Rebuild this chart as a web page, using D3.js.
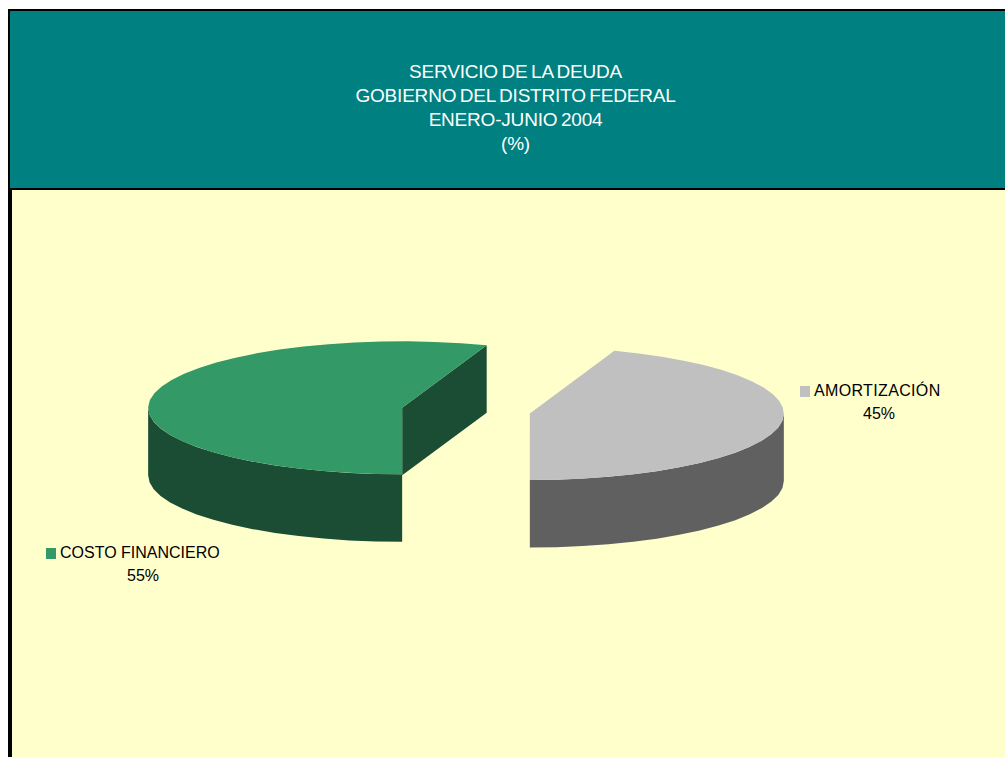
<!DOCTYPE html>
<html>
<head>
<meta charset="utf-8">
<script src="https://cdn.jsdelivr.net/npm/d3@7/dist/d3.min.js"></script>
<style>
html,body{margin:0;padding:0;background:#fff;overflow:hidden}
svg{display:block}
text{font-family:"Liberation Sans",Arial,sans-serif}
</style>
</head>
<body>
<div id="chart"></div>
<script>
var titleLines=["SERVICIO DE LA DEUDA","GOBIERNO DEL DISTRITO FEDERAL","ENERO-JUNIO 2004","(%)"];
var categories=["AMORTIZACIÓN","COSTO FINANCIERO"];
var values=[44.6,55.4];
var topColors=["#c0c0c0","#339966"];
var sideColors=["#606060","#1a4d33"];

var width=1005,height=757;
var rx=254,ry=66.5,depth=67.5;   // elipse de la tapa y grosor
var cx=466,cy=410.7;             // centro del pastel
var explode=0.255;               // separacion de las rebanadas
var firstAngle=Math.PI*(1-2*values[0]/d3.sum(values));  // el corte queda vertical abajo

var svg=d3.select("#chart").append("svg").attr("width",width).attr("height",height);

// marco y encabezado
svg.append("rect").attr("x",8).attr("y",9).attr("width",width-8).attr("height",height-9).attr("fill","#000");
svg.append("rect").attr("x",10).attr("y",11).attr("width",width-10).attr("height",177).attr("fill","#008080");
svg.append("rect").attr("x",12).attr("y",190).attr("width",width-12).attr("height",height-190).attr("fill","#ffffcc");

svg.selectAll("text.title").data(titleLines).enter().append("text")
	.attr("class","title")
	.attr("x",515.5)
	.attr("y",function(d,i){return 78+i*24;})
	.attr("text-anchor","middle")
	.attr("fill","#fff")
	.attr("font-size",19)
	.attr("letter-spacing",-0.2)
	.attr("word-spacing",-1.5)
	.text(function(d){return d;});

// la escala va de -1..1 del circulo unitario a pixeles
var xs=d3.scaleLinear().domain([-1,1]).range([-rx,rx]);
var ys=d3.scaleLinear().domain([-1,1]).range([-ry,ry]);
var pie=d3.pie().sort(null).startAngle(firstAngle).endAngle(firstAngle+2*Math.PI);
var slices=pie(values);
var line=d3.line().x(function(d){return d[0];}).y(function(d){return d[1];});

function center(s){
	var mid=(s.startAngle+s.endAngle)/2;
	return [cx+xs(explode*Math.sin(mid)),cy+ys(-explode*Math.cos(mid))];
}
function rim(s,a,dy){
	var c=center(s);
	return [c[0]+xs(Math.sin(a)),c[1]+ys(-Math.cos(a))+dy];
}
function arcPoints(s,a0,a1,dy){
	var pts=[],n=Math.max(1,Math.round(Math.abs(a1-a0)/(6*Math.PI/180)));
	for(var i=0;i<=n;i++){pts.push(rim(s,a0+(a1-a0)*i/n,dy));}
	return pts;
}

slices.forEach(function(s,i){
	var c=center(s);
	var g=svg.append("g");
	// pared exterior: solo la parte que mira al frente
	var a0=Math.max(s.startAngle,Math.PI/2),a1=Math.min(s.endAngle,3*Math.PI/2);
	var wall=arcPoints(s,a0,a1,0).concat(arcPoints(s,a1,a0,depth));
	g.append("path").attr("d",line(wall)+"Z").attr("fill",sideColors[i]);
	// cara del corte visible (termina atras y a la derecha)
	if(s.endAngle>2*Math.PI){
		var p=rim(s,s.endAngle,0);
		g.append("path")
			.attr("d",line([c,p,[p[0],p[1]+depth],[c[0],c[1]+depth]])+"Z")
			.attr("fill",sideColors[i]);
	}
	// tapa
	var top=[c].concat(arcPoints(s,s.startAngle,s.endAngle,0));
	g.append("path").attr("d",line(top)+"Z").attr("fill",topColors[i]);
});

// etiquetas
var labelX=[800,46],labelY=[396,558],pctX=[879,143],labelSpacing=[0.35,0];
categories.forEach(function(name,i){
	svg.append("rect").attr("x",labelX[i]).attr("y",labelY[i]-10).attr("width",10).attr("height",11).attr("fill",topColors[i]);
	svg.append("text").attr("x",labelX[i]+14).attr("y",labelY[i])
		.attr("font-size",16).attr("letter-spacing",labelSpacing[i]).attr("fill","#000").text(name);
	svg.append("text").attr("x",pctX[i]).attr("y",labelY[i]+23).attr("text-anchor","middle")
		.attr("font-size",16).attr("fill","#000").text(Math.round(values[i])+"%");
});
</script>
</body>
</html>
